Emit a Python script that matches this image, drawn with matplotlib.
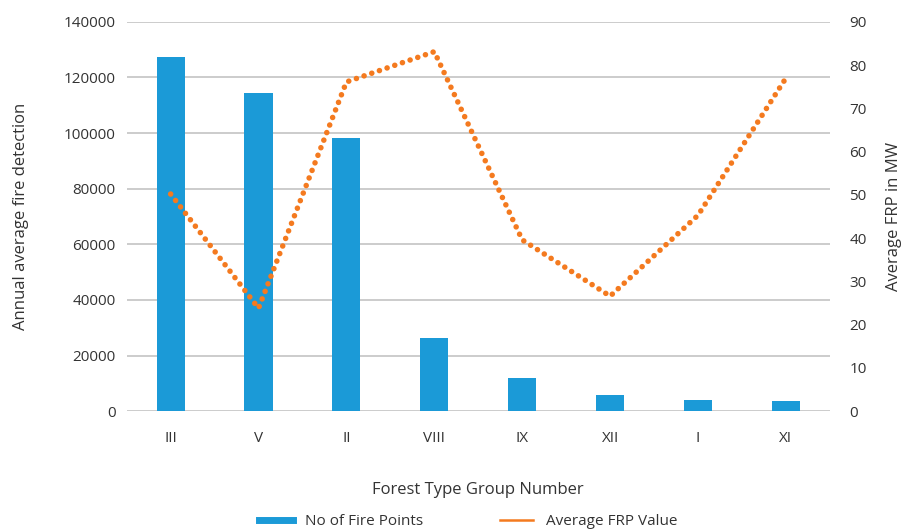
import numpy as np
import matplotlib.pyplot as plt
from matplotlib.lines import Line2D

plt.rcParams['font.family'] = ['Open Sans', 'DejaVu Sans']

groups = ["III", "V", "II", "VIII", "IX", "XII", "I", "XI"]
fire_points = [127200, 114500, 98300, 26300, 11900, 5800, 4000, 3600]
avg_frp = [50.2, 23.8, 76.1, 83.1, 39.6, 26.6, 45.3, 77.0]

blue = '#1b9ad7'
orange = '#f47a1f'
txt = '#333333'

fig = plt.figure(figsize=(9.18, 5.32), dpi=100)
ax = fig.add_axes([0.138, 0.227, 0.766, 0.732])
x = np.arange(len(groups))

ax.bar(x, fire_points, width=0.32, color=blue, zorder=2)
ax.set_ylim(0, 140000)
ax.set_yticks(np.arange(0, 140001, 20000))
ax.yaxis.grid(True, color='#cccccc', linewidth=1.4, zorder=0)
ax.set_axisbelow(True)
ax.set_xlim(-0.5, len(groups) - 0.5)
ax.set_xticks(x)
ax.set_xticklabels(groups)
for s in ax.spines.values():
    s.set_visible(False)
ax.tick_params(length=0, labelsize=11, colors=txt, pad=8)
ax.tick_params(axis='x', pad=14)
ax.set_ylabel("Annual average fire detection", fontsize=12, color=txt, labelpad=25)
ax.set_xlabel("Forest Type Group Number", fontsize=12, color=txt, labelpad=26)

ax2 = ax.twinx()
ax2.plot(x, avg_frp, color=orange, linewidth=4, linestyle=(0, (0.01, 1.45)),
         dash_capstyle='round', zorder=3)
ax2.set_ylim(0, 90)
ax2.set_yticks(np.arange(0, 91, 10))
for s in ax2.spines.values():
    s.set_visible(False)
ax2.tick_params(length=0, labelsize=11, colors=txt, pad=14)
ax2.set_ylabel("Average FRP in MW", fontsize=12, color=txt, labelpad=14)

handles = [Line2D([0], [0], color=blue, linewidth=5),
           Line2D([0], [0], color=orange, linewidth=1.8)]
fig.legend(handles, ["No of Fire Points", "Average FRP Value"], loc='lower center',
           bbox_to_anchor=(0.51, -0.02), ncol=2, frameon=False, fontsize=11,
           labelcolor=txt, handlelength=2.2, columnspacing=5)

fig.savefig('out.png', dpi=100)
